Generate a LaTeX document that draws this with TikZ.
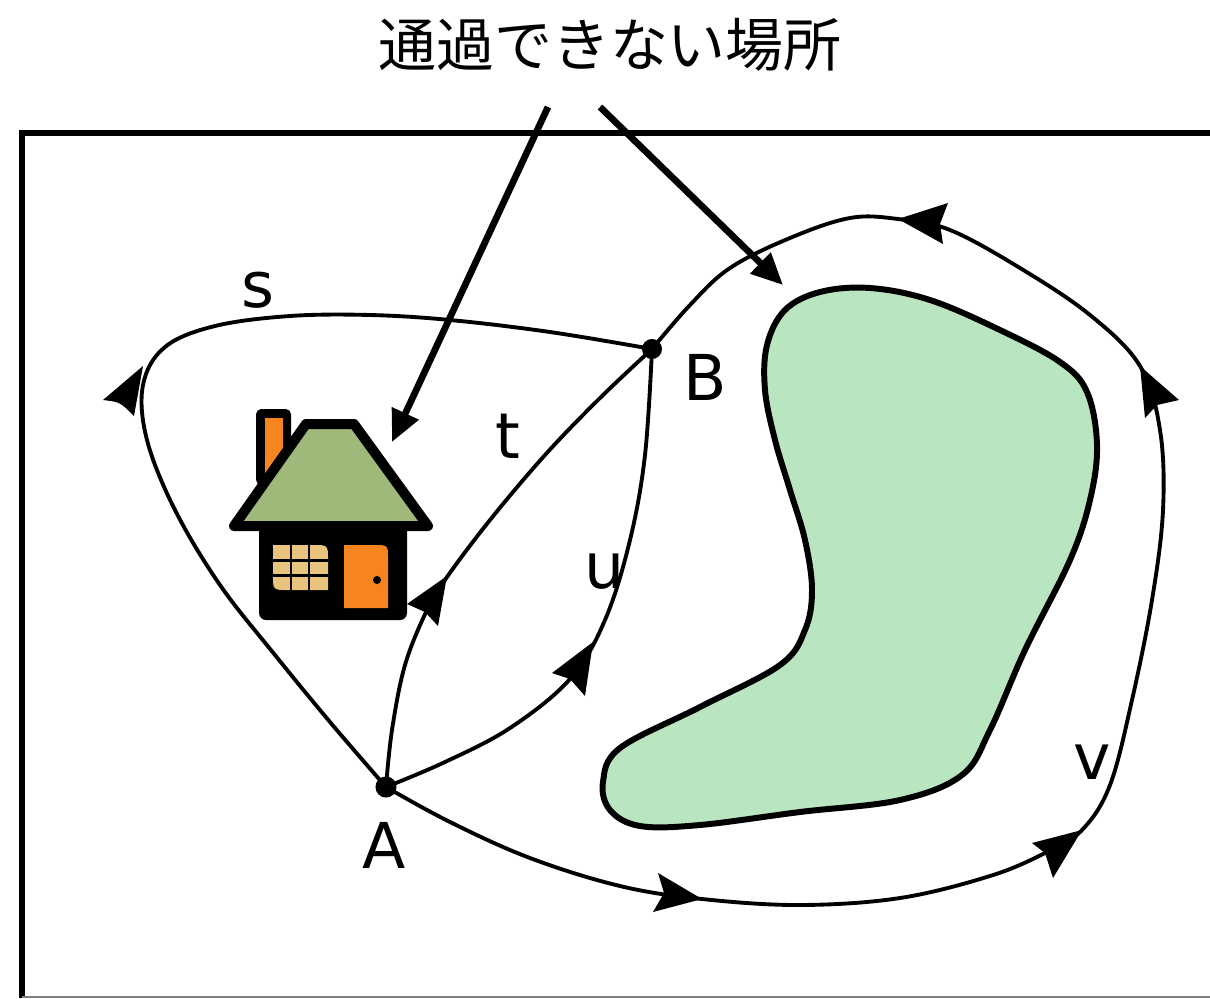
\documentclass[tikz,border=0pt]{standalone}
\usepackage{fontspec}
\setmainfont{DejaVu Sans}
\newfontfamily\jpfont{Noto Sans CJK JP}
\usetikzlibrary{arrows.meta}
\definecolor{roofgreen}{HTML}{9EB97A}
\definecolor{pondgreen}{HTML}{B9E6C1}
\definecolor{brick}{HTML}{F6841F}
\definecolor{pane}{HTML}{E8C47F}

\begin{document}
\begin{tikzpicture}[x=0.02cm,y=-0.02cm,
  route/.style={line width=2.2pt,line join=round},
  tiphead/.style={fill=black},
  callout/.style={line width=3.8pt,-{Triangle[length=18pt,width=16pt]}},
  lbl/.style={font=\fontsize{36}{40}\selectfont,inner sep=0pt}]
\useasboundingbox (0,0) rectangle (1210,998);

% frame
\draw[line width=3.4pt] (22,998) -- (22,133) -- (1212,133);
\draw[gray,line width=0.6pt] (22,997) -- (1210,997);

% the obstacle
\draw[line width=3.4pt,fill=pondgreen] plot[smooth cycle,tension=0.6] coordinates {
  (767,345) (785,310) (820,292) (870,288) (930,300) (1000,330) (1060,362)
  (1087,392) (1097,445) (1090,500) (1070,560) (1025,650) (990,730) (962,775)
  (900,800) (800,812) (700,825) (640,826) (610,810) (603,782) (620,748)
  (700,707) (780,665) (805,630) (812,590) (805,540) (790,490) (775,440) (765,390)};

% the house
\fill[black,rounded corners=3pt] (256,409) rectangle (291,485);
\fill[brick] (265,418) rectangle (283,480);
\fill[black,rounded corners=4pt] (259,515) rectangle (407,620);
\draw[line width=5.7pt,line join=round,fill=roofgreen]
  (306,424) -- (354,424) -- (428,526) -- (234,526) -- cycle;
\fill[pane] (273,545) -- (313,545) .. controls (328,545) .. (328,560) -- (328,590)
  -- (288,590) .. controls (273,590) .. (273,575) -- cycle;
\draw[line width=1.7pt] (291,545) -- (291,590) (309,545) -- (309,590)
  (273,560) -- (328,560) (273,575) -- (328,575);
\fill[brick] (344,608) -- (344,545) -- (374,545) .. controls (388,545) .. (388,559)
  -- (388,608) -- cycle;
\fill (377,580) circle (2.3pt);

% end points
\coordinate (A) at (386,787);
\coordinate (B) at (652,349);

% paths s, t, u and v
\draw[route] plot[smooth,tension=0.6] coordinates {(A) (330,722) (275,655) (220,585)
  (175,510) (147,440) (143,385) (165,347) (215,326) (290,316) (370,315) (450,320)
  (550,332) (B)};
\draw[route] plot[smooth,tension=0.6] coordinates {(A) (392,730) (405,665) (427,610)
  (447,577) (490,520) (545,455) (600,398) (B)};
\draw[route] plot[smooth,tension=0.6] coordinates {(A) (445,762) (510,728) (570,679)
  (605,620) (630,540) (645,455) (B)};
\draw[route] plot[smooth,tension=0.6] coordinates {(A) (450,822) (530,858) (620,886)
  (702,899) (800,905) (900,898) (990,876) (1045,853) (1082,830) (1110,785)
  (1132,700) (1152,600) (1163,510) (1160,430) (1140,366) (1090,315) (1020,268)
  (950,230) (898,219) (850,218) (790,238) (730,268) (690,305) (B)};

% arrow heads
\fill[tiphead] (143,366) -- (103,400) .. controls (120,402) .. (134,416) -- cycle;
\fill[tiphead] (447,576) -- (407,604) -- (425,612) -- (438,626) -- cycle;
\fill[tiphead] (593,642) -- (552,673) -- (570,679) -- (585,696) -- cycle;
\fill[tiphead] (702,899) -- (658,873) -- (664,893) -- (653,912) -- cycle;
\fill[tiphead] (1082,830) -- (1032,843) -- (1045,853) -- (1053,878) -- cycle;
\fill[tiphead] (1140,366) -- (1179,400) -- (1157,405) -- (1145,418) -- cycle;
\fill[tiphead] (898,219) -- (948,203) -- (940,224) -- (943,244) -- cycle;

\fill (A) circle (6pt);
\fill (B) circle (5.7pt);

% labels
\node[lbl] (la) at (384,845) {A};
\node[lbl] (lb) at (705,377) {B};
\node[lbl] (ls) at (258,290) {s};
\node[lbl] (lt) at (508,436) {t};
\node[lbl] (lu) at (605,571) {u};
\node[lbl] (lv) at (1092,762) {v};

% title with pointers
\node[font=\jpfont\fontsize{33}{40}\selectfont] (title) at (610,45) {通過できない場所};
\coordinate (p1) at (548,107);
\coordinate (p2) at (600,107);
\coordinate (hometip) at (392,442);
\coordinate (pondtip) at (783,285);
\draw[callout] (p1) -- (hometip);
\draw[callout] (p2) -- (pondtip);
\end{tikzpicture}
\end{document}
